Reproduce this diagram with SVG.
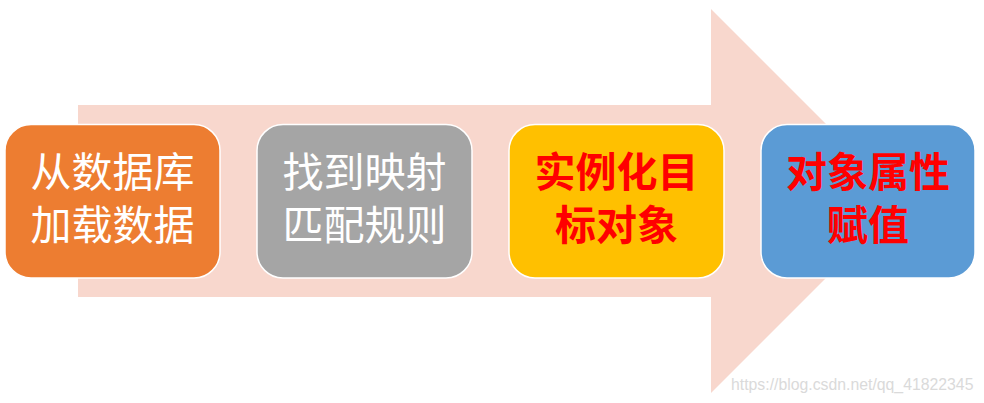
<svg xmlns="http://www.w3.org/2000/svg" width="984" height="403" viewBox="0 0 984 403">
<style>
.box{stroke:#FFFFFF;stroke-width:1.5}
.t{font-family:"Noto Sans CJK SC","Liberation Sans",sans-serif;font-size:41px;text-anchor:middle}
.w{fill:#FFFFFF;font-weight:400}
.r{fill:#FF0000;font-weight:700}
.wm{font-family:"Liberation Sans",Arial,sans-serif;font-size:15.8px;fill:#DADADA}
</style>
<rect width="984" height="403" fill="#FFFFFF"/>
<g id="connectors">
<polygon points="78,105 711,105 711,9 903,201 711,393 711,297 78,297" fill="#F8D7CD"/>
</g>
<g id="node1">
<rect class="box" x="5" y="124.5" width="215" height="153.5" rx="26" fill="#ED7D31"/>
<text class="t w" x="112.5" y="187">从数据库</text>
<text class="t w" x="112.5" y="240">加载数据</text>
</g>
<g id="node2">
<rect class="box" x="257" y="124.5" width="215" height="153.5" rx="26" fill="#A5A5A5"/>
<text class="t w" x="364.5" y="187">找到映射</text>
<text class="t w" x="364.5" y="240">匹配规则</text>
</g>
<g id="node3">
<rect class="box" x="509" y="124.5" width="215" height="153.5" rx="26" fill="#FFC000"/>
<text class="t r" x="616.5" y="187">实例化目</text>
<text class="t r" x="616.5" y="240">标对象</text>
</g>
<g id="node4">
<rect class="box" x="761" y="124.5" width="214" height="153.5" rx="26" fill="#5B9BD5"/>
<text class="t r" x="868" y="187">对象属性</text>
<text class="t r" x="868" y="240">赋值</text>
</g>
<text class="wm" x="731" y="390">https://blog.csdn.net/qq_41822345</text>
</svg>
